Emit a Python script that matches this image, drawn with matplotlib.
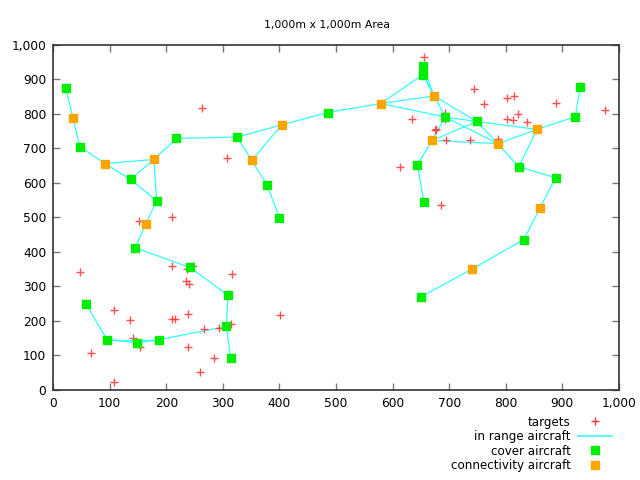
import matplotlib
matplotlib.use('Agg')
from matplotlib import pyplot as plt
from matplotlib.ticker import FuncFormatter, MultipleLocator
from matplotlib.lines import Line2D

# targets on the ground
target_x = [263, 307, 151, 210, 48, 210, 247, 236, 316, 234, 240, 107, 136, 210, 216, 238,
            401, 315, 267, 293, 142, 154, 238, 284, 260, 67, 108,
            655, 744, 762, 802, 814, 889, 975, 634, 693, 692, 675, 677, 694, 737, 786,
            803, 812, 822, 838, 613, 685]
target_y = [817, 672, 490, 502, 343, 360, 359, 350, 337, 317, 306, 233, 203, 207, 207, 221,
            218, 190, 176, 179, 150, 125, 124, 94, 51, 108, 24,
            966, 873, 830, 847, 853, 833, 812, 786, 802, 785, 754, 757, 725, 723, 727,
            785, 782, 800, 776, 647, 537]

# aircraft positions
aircraft = {
    'G1': (22, 876), 'O1': (35, 789), 'G2': (47, 705), 'O2': (92, 656),
    'G3': (137, 610), 'O3': (178, 668), 'G4': (183, 548), 'G5': (218, 729),
    'G6': (325, 733), 'O4': (351, 665), 'G7': (378, 595), 'G8': (400, 499),
    'O5': (404, 768), 'G9': (485, 804), 'O6': (579, 830), 'O13': (164, 482),
    'G22': (145, 412), 'G23': (242, 355), 'G24': (309, 275), 'G29': (306, 184),
    'G30': (314, 94), 'G25': (58, 250), 'G26': (95, 146), 'G27': (148, 137),
    'G28': (188, 146),
    'G10': (654, 940), 'G11': (654, 914), 'O7': (673, 852), 'G12': (693, 791),
    'G13': (749, 778), 'O8': (670, 723), 'O9': (786, 714), 'O10': (855, 755),
    'G16': (923, 792), 'G17': (932, 879), 'G14': (823, 647), 'G15': (888, 615),
    'O11': (860, 526), 'G20': (832, 436), 'O12': (741, 351), 'G21': (650, 270),
    'G18': (644, 653), 'G19': (655, 546),
}

# pairs of aircraft within range of each other
links = [
    ('G1', 'O1'), ('O1', 'G2'), ('G2', 'O2'), ('O2', 'O3'), ('O2', 'G3'), ('G3', 'O3'),
    ('G3', 'G4'), ('O3', 'G4'), ('O3', 'G5'), ('G5', 'G6'), ('G6', 'O4'), ('G6', 'O5'),
    ('O4', 'O5'), ('O4', 'G7'), ('G7', 'G8'), ('O5', 'G9'), ('G9', 'O6'),
    ('G4', 'O13'), ('O13', 'G22'), ('G22', 'G23'), ('G23', 'G24'), ('G24', 'G29'),
    ('G29', 'G30'), ('G29', 'G28'), ('G28', 'G27'), ('G27', 'G26'), ('G26', 'G28'),
    ('G26', 'G25'),
    ('O6', 'G11'), ('O6', 'O7'), ('O6', 'G12'), ('G10', 'G11'), ('G10', 'O7'),
    ('G11', 'O7'), ('G11', 'G12'), ('O7', 'G13'), ('G12', 'G13'), ('G12', 'O8'),
    ('G12', 'O9'), ('O8', 'G13'), ('O8', 'O9'), ('G13', 'O9'), ('G13', 'O10'),
    ('O9', 'O10'), ('O10', 'G16'), ('G16', 'G17'), ('O10', 'G14'), ('O9', 'G14'),
    ('G14', 'G15'), ('G15', 'O11'), ('O11', 'G20'), ('G20', 'O12'), ('O12', 'G21'),
    ('O8', 'G18'), ('G18', 'G19'),
]

cover = [k for k in aircraft if k.startswith('G')]
connect = [k for k in aircraft if k.startswith('O')]

plt.rcParams['font.family'] = ['DejaVu Sans']
fig = plt.figure(figsize=(6.4, 4.8), dpi=100)
ax = fig.add_axes([0.083, 0.1875, 0.884, 0.719])

for a, b in links:
    xa, ya = aircraft[a]
    xb, yb = aircraft[b]
    ax.plot([xa, xb], [ya, yb], color='#33ffff', lw=0.9, zorder=1)

ax.plot(target_x, target_y, '+', color='#ff3333', ms=6, mew=1.0, alpha=0.85, zorder=2)
ax.plot([aircraft[k][0] for k in cover], [aircraft[k][1] for k in cover], 's',
        color='#00ee00', mec='#00ee00', ms=5.8, zorder=3)
ax.plot([aircraft[k][0] for k in connect], [aircraft[k][1] for k in connect], 's',
        color='#ffa500', mec='#ffa500', ms=5.8, zorder=3)

ax.set_xlim(0, 1000)
ax.set_ylim(0, 1000)
fmt = FuncFormatter(lambda v, p: '{:,.0f}'.format(v))
ax.xaxis.set_major_locator(MultipleLocator(100))
ax.yaxis.set_major_locator(MultipleLocator(100))
ax.xaxis.set_major_formatter(fmt)
ax.yaxis.set_major_formatter(fmt)
ax.tick_params(direction='in', length=5, width=1, color='#777777', top=True, right=True,
               labelsize=8.8, pad=5)
for s in ax.spines.values():
    s.set_color('#333333')
    s.set_linewidth(1.2)

fig.text(0.5105, 0.948, '1,000m x 1,000m Area', fontsize=7.8, ha='center', va='center')

handles = [
    Line2D([], [], ls='none', marker='+', color='#ff3333', ms=6, mew=1.0),
    Line2D([], [], color='#33ffff', lw=1.2),
    Line2D([], [], ls='none', marker='s', color='#00ee00', ms=5.8),
    Line2D([], [], ls='none', marker='s', color='#ffa500', ms=5.8),
]
labels = ['targets', 'in range aircraft', 'cover aircraft', 'connectivity aircraft']
fig.legend(handles, labels, loc='upper right', bbox_to_anchor=(0.956, 0.134),
           markerfirst=False, frameon=False, fontsize=8.6, labelspacing=0.12,
           handlelength=2.85, handletextpad=0.59, borderpad=0, borderaxespad=0)

fig.savefig('out.png', dpi=100)
